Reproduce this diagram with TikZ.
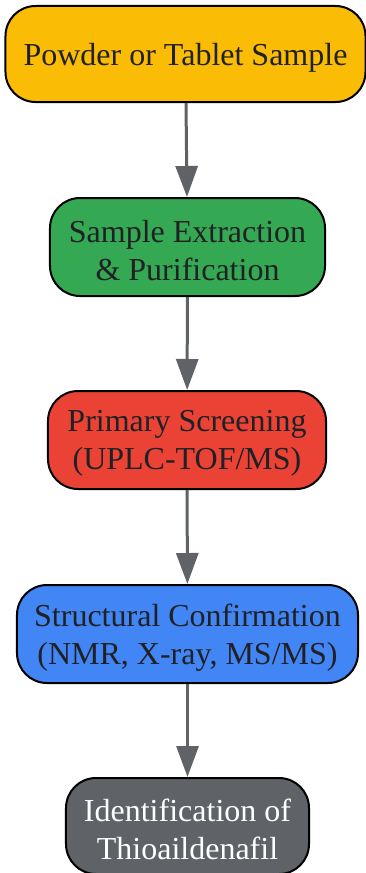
\documentclass[tikz,border=0pt]{standalone}
\usepackage{fontspec}
\setmainfont{Liberation Serif}
\usetikzlibrary{arrows.meta}
\definecolor{cyellow}{HTML}{FBBC05}
\definecolor{cgreen}{HTML}{34A853}
\definecolor{cred}{HTML}{EA4335}
\definecolor{cblue}{HTML}{4285F4}
\definecolor{cgray}{HTML}{5F6368}
\definecolor{ctext}{HTML}{202124}
\begin{document}
\begin{tikzpicture}[x=1bp,y=-1bp,
  box/.style={draw=black, line width=2bp, rounded corners=30bp, inner sep=0pt,
    minimum height=96bp},
  lbl/.style={inner sep=0pt, align=center, text=ctext, yshift=-3.5bp,
    font=\fontsize{32bp}{38.5bp}\selectfont},
  flow/.style={draw=cgray, line width=3bp, -{Triangle[width=22bp,length=31bp]}}]
\useasboundingbox (0,0) rectangle (365,873);
\node[box, fill=cyellow, minimum width=360bp] (n1) at (185.5,54) {};
\node[box, fill=cgreen, minimum width=275bp, minimum height=98bp] (n2) at (187.5,247) {};
\node[box, fill=cred, minimum width=278bp, minimum height=98bp] (n3) at (187,440) {};
\node[box, fill=cblue, minimum width=341bp, minimum height=98bp] (n4) at (187.5,634) {};
\node[box, fill=cgray, minimum width=243bp] (n5) at (187.5,826) {};
\node[lbl] (t1) at (n1.center) {Powder or Tablet Sample};
\node[lbl] (t2) at (n2.center) {Sample Extraction\\\& Purification};
\node[lbl] (t3) at (n3.center) {Primary Screening\\(UPLC-TOF/MS)};
\node[lbl] (t4) at (n4.center) {Structural Confirmation\\(NMR, X-ray, MS/MS)};
\node[lbl, text=white] (t5) at (n5.center) {Identification of\\Thioaildenafil};
\draw[flow] (n1) -- (n2);
\draw[flow] (n2) -- (n3);
\draw[flow] (n3) -- (n4);
\draw[flow] (n4) -- (n5);
\end{tikzpicture}
\end{document}
